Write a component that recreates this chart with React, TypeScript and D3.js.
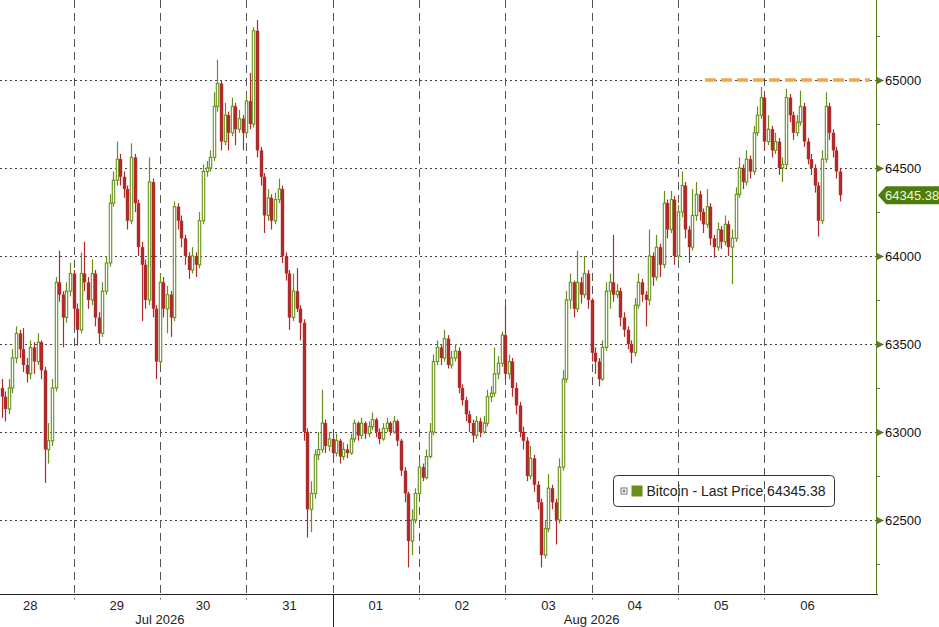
import React from 'react';
import * as d3 from 'd3';

// ---------- data (hourly bars, first bar 28 Jul 2026 04:00) ----------
const firstBar = new Date(2026, 6, 28, 4);
const firstOpen = 63250;
const closes = [
  // 28 Jul
  63200, 63130, 63250, 63420, 63560, 63470, 63380, 63330, 63480, 63400, 63510, 63350, 62900, 62950, 63250, 63850, 63780, 63650, 63800, 63900,
  // 29 Jul
  63700, 63580, 63900, 63850, 63750, 63900, 63650, 63560, 63800, 63960, 64300, 64430, 64550, 64450, 64380, 64200, 64560, 64300, 64050, 63950, 63750, 64420, 63700, 63400,
  // 30 Jul
  63850, 63700, 63780, 63650, 64280, 64200, 64100, 64000, 63920, 64000, 63950, 64200, 64480, 64500, 64560, 64850, 64980, 64650, 64800, 64700, 64850, 64720, 64780, 64700,
  // 31 Jul
  64880, 64750, 65280, 64600, 64450, 64230, 64330, 64200, 64320, 64380, 64000, 63900, 63650, 63800, 63700, 63620, 63000, 62560, 62650, 62870, 62900, 63050, 62920, 62960,
  // 01 Aug
  62880, 62950, 62860, 62900, 62880, 62960, 63050, 62980, 63050, 62990, 63030, 63070, 63000, 62960, 63020, 63050, 63000, 63060, 62950, 62780, 62650, 62380, 62500, 62650,
  // 02 Aug
  62800, 62740, 62860, 63000, 63400, 63480, 63420, 63530, 63380, 63420, 63460, 63250, 63180, 63100, 63050, 62980, 63060, 63000, 63050, 63200, 63220, 63330, 63390, 63550,
  // 03 Aug
  63330, 63400, 63250, 63150, 63000, 62950, 62750, 62850, 62700, 62600, 62300, 62450, 62680, 62600, 62500, 62800, 63300, 63750, 63850, 63700, 63850, 63780, 63900, 63750,
  // 04 Aug
  63450, 63400, 63300, 63480, 63800, 63850, 63780, 63800, 63650, 63580, 63500, 63450, 63720, 63850, 63780, 63750, 64000, 63880, 64050, 63950, 64300, 64150, 64320, 64000,
  // 05 Aug
  64250, 64400, 64150, 64050, 64230, 64350, 64250, 64180, 64280, 64100, 64050, 64150, 64080, 64180, 64050, 64100, 64350, 64500, 64420, 64550, 64480, 64700, 64800, 64900,
  // 06 Aug
  64650, 64720, 64600, 64650, 64500, 64520, 64900, 64800, 64700, 64760, 64850, 64650, 64550, 64500, 64400, 64200, 64550, 64850, 64700, 64600, 64480, 64345.38,
];
const highs = [
  63300, 63230, 63300, 63470, 63600, 63580, 63590, 63420, 63520, 63510, 63560, 63520, 63370, 63050, 63300, 63880, 64030, 63800, 63850, 63960,
  63920, 63730, 64020, 64080, 63880, 63980, 63920, 63680, 63850, 64000, 64350, 64480, 64650, 64580, 64480, 64400, 64640, 64580, 64320, 64080, 63980, 64560, 64440, 63720,
  63900, 63880, 63830, 63800, 64310, 64300, 64230, 64120, 64020, 64050, 64020, 64250, 64520, 64540, 64600, 64930, 65115, 65000, 64870, 64820, 64900, 64870, 64830, 64800,
  64920, 65040, 65300, 65340, 64620, 64470, 64380, 64350, 64360, 64440, 64400, 64020, 63920, 63900, 63930, 63720, 63640, 63020, 62720, 62900, 63000, 63240, 63070, 63000,
  62990, 62990, 62960, 62940, 62930, 62990, 63070, 63060, 63080, 63060, 63060, 63110, 63080, 63020, 63050, 63080, 63060, 63090, 63070, 62960, 62800, 62660, 62560, 62680,
  62840, 62820, 62900, 63050, 63440, 63520, 63500, 63580, 63550, 63460, 63500, 63480, 63270, 63200, 63120, 63070, 63090, 63080, 63090, 63240, 63260, 63480, 63430, 63570,
  63720, 63440, 63420, 63280, 63170, 63030, 62970, 62920, 62870, 62720, 62620, 62500, 62760, 62700, 62620, 62850, 63350, 63800, 63900, 63860, 64030, 63880, 64000, 63920,
  63760, 63480, 63420, 63520, 63850, 63900, 64120, 63840, 63820, 63680, 63600, 63520, 63760, 63900, 63870, 63800, 64150, 64020, 64120, 64070, 64370, 64320, 64370, 64340,
  64290, 64480, 64420, 64170, 64380, 64420, 64370, 64270, 64380, 64300, 64120, 64190, 64170, 64230, 64200, 64150, 64390, 64560, 64520, 64600, 64570, 64740, 64850, 64960,
  64920, 64800, 64740, 64700, 64670, 64560, 64950, 64920, 64820, 64800, 64940, 64870, 64670, 64580, 64520, 64420, 64600, 64930, 64870, 64720, 64620, 64500,
];
const lows = [
  63080, 63060, 63100, 63220, 63390, 63420, 63340, 63280, 63300, 63330, 63380, 63300, 62710, 62820, 62920, 63230, 63740, 63480, 63620, 63770,
  63600, 63490, 63560, 63800, 63700, 63720, 63600, 63500, 63540, 63780, 63940, 64280, 64400, 64400, 64330, 64150, 64180, 64250, 64000, 63630, 63700, 63720, 63650, 63300,
  63380, 63650, 63560, 63540, 63630, 64150, 64050, 63950, 63870, 63900, 63880, 63930, 64180, 64450, 64480, 64540, 64820, 64600, 64630, 64600, 64680, 64630, 64700, 64600,
  64680, 64720, 64730, 64560, 64400, 64130, 64200, 64150, 64180, 64300, 63960, 63860, 63580, 63630, 63680, 63520, 62950, 62400, 62430, 62620, 62840, 62880, 62880, 62890,
  62850, 62860, 62820, 62840, 62850, 62870, 62940, 62950, 62960, 62960, 62970, 63010, 62970, 62930, 62950, 63000, 62980, 62990, 62920, 62750, 62600, 62230, 62300, 62480,
  62640, 62720, 62730, 62850, 62980, 63380, 63380, 63400, 63360, 63360, 63400, 63220, 63150, 63060, 63000, 62940, 62960, 62970, 62990, 63030, 63170, 63200, 63300, 63370,
  63300, 63300, 63200, 63100, 62970, 62900, 62720, 62730, 62660, 62560, 62230, 62280, 62430, 62560, 62360, 62480, 62780, 63280, 63700, 63650, 63680, 63730, 63760, 63700,
  63400, 63330, 63260, 63290, 63460, 63700, 63740, 63760, 63600, 63540, 63470, 63390, 63430, 63700, 63740, 63600, 63720, 63830, 63860, 63880, 63930, 64100, 64130, 63950,
  63980, 64220, 64100, 63960, 64030, 64200, 64200, 64130, 64160, 64060, 63990, 64030, 64040, 64060, 64000, 63840, 64080, 64330, 64380, 64400, 64440, 64460, 64680, 64780,
  64600, 64630, 64560, 64580, 64460, 64420, 64500, 64760, 64660, 64680, 64740, 64620, 64520, 64460, 64360, 64110, 64180, 64530, 64660, 64560, 64440, 64310,
];
const dayLabels = ['28', '29', '30', '31', '01', '02', '03', '04', '05', '06'];
const monthLabels = ['Jul 2026', 'Aug 2026'];
const yTicks = [62500, 63000, 63500, 64000, 64500, 65000];
const yMinorTicks = [62250, 62750, 63250, 63750, 64250, 64750, 65250];
const lastPrice = 64345.38;
const resistanceLevel = 65000;
const resistanceStart = new Date(2026, 7, 5, 7, 30);
const seriesLabel = 'Bitcoin - Last Price';

// ---------- colours ----------
const UP = '#67901a';
const DOWN = '#b02a2a';
const AXIS_GREEN = '#5a7a1e';
const TAG_GREEN = '#4f7d0c';
const FONT = '"Liberation Sans", Arial, sans-serif';

export default function App() {
  const W = 939;
  const H = 627;
  const plotRight = 876;
  const plotBottom = 594.5;

  const x = d3
    .scaleTime()
    .domain([new Date(2026, 6, 28, 3, 34), new Date(2026, 7, 7, 7, 2)])
    .range([0, plotRight]);
  const y = d3.scaleLinear().domain([62076, 65454.5]).range([plotBottom, 0]);

  const bars = closes.map((c, i) => {
    const o = i === 0 ? firstOpen : closes[i - 1];
    return { t: d3.timeHour.offset(firstBar, i), o, c, h: highs[i], l: lows[i] };
  });

  const dayStarts = d3.timeDay.range(new Date(2026, 6, 29), new Date(2026, 7, 7));
  const noons = d3.timeDay
    .range(new Date(2026, 6, 28), new Date(2026, 7, 7))
    .map((d) => d3.timeHour.offset(d, 12));
  const monthStart = new Date(2026, 7, 1);
  const julNoons = noons.filter((d) => d < monthStart);
  const augNoons = noons.filter((d) => d >= monthStart);
  const monthX = [
    (x(julNoons[0]) + x(julNoons[julNoons.length - 1])) / 2,
    (x(augNoons[0]) + x(augNoons[augNoons.length - 1])) / 2,
  ];

  const yLast = y(lastPrice);
  const yRes = y(resistanceLevel);

  return (
    <>
      <style>{`body{margin:0;background:#fff}`}</style>
      <svg width={W} height={H} style={{ display: 'block', fontFamily: FONT }}>
        <rect x={0} y={0} width={W} height={H} fill="#ffffff" />

        {/* horizontal dotted grid */}
        {yTicks.map((v) => (
          <line
            key={'hg' + v}
            x1={0}
            x2={plotRight}
            y1={Math.round(y(v)) + 0.5}
            y2={Math.round(y(v)) + 0.5}
            stroke="#444"
            strokeWidth={1}
            strokeDasharray="2,3"
          />
        ))}

        {/* vertical dashed day grid */}
        {dayStarts.map((d) => (
          <line
            key={'vg' + d.getTime()}
            x1={Math.round(x(d)) + 0.5}
            x2={Math.round(x(d)) + 0.5}
            y1={0}
            y2={plotBottom + 5}
            stroke="#555"
            strokeWidth={1}
            strokeDasharray="8,5"
          />
        ))}

        {/* month separator below axis */}
        <line
          x1={Math.round(x(monthStart)) + 0.5}
          x2={Math.round(x(monthStart)) + 0.5}
          y1={plotBottom}
          y2={H}
          stroke="#222"
          strokeWidth={1}
        />

        {/* candles */}
        <g>
          {bars.map((b, i) => {
            const cx = Math.round(x(b.t)) + 0.5;
            const up = b.c >= b.o;
            const top = y(Math.max(b.o, b.c));
            const bot = y(Math.min(b.o, b.c));
            const hgt = Math.max(1, bot - top);
            const col = up ? UP : DOWN;
            return (
              <g key={i}>
                <line x1={cx} x2={cx} y1={y(b.h)} y2={y(b.l)} stroke={col} strokeWidth={1.2} />
                {up ? (
                  <rect x={cx - 1.2} y={top} width={2.4} height={hgt} fill="#ffffff" stroke={col} strokeWidth={1.1} />
                ) : (
                  <rect x={cx - 1.7} y={top} width={3.4} height={hgt} fill={col} stroke="none" />
                )}
              </g>
            );
          })}
        </g>

        {/* resistance line */}
        <line
          x1={x(resistanceStart)}
          x2={plotRight - 6}
          y1={yRes}
          y2={yRes}
          stroke="#f4a640"
          strokeWidth={3.5}
          strokeDasharray="11,5"
        />

        {/* x axis */}
        <line x1={0} x2={plotRight + 2} y1={plotBottom} y2={plotBottom} stroke="#222" strokeWidth={1} />
        {noons.map((d, i) => (
          <text key={'dl' + i} x={x(d)} y={610} textAnchor="middle" fontSize={13} fill="#222">
            {dayLabels[i]}
          </text>
        ))}
        {monthLabels.map((m, i) => (
          <text key={'ml' + i} x={monthX[i]} y={624} textAnchor="middle" fontSize={13} fill="#222">
            {m}
          </text>
        ))}

        {/* y axis */}
        <line x1={plotRight + 0.5} x2={plotRight + 0.5} y1={0} y2={plotBottom} stroke={AXIS_GREEN} strokeWidth={1} />
        {yMinorTicks.map((v) => (
          <line
            key={'mt' + v}
            x1={plotRight}
            x2={plotRight + 4}
            y1={Math.round(y(v)) + 0.5}
            y2={Math.round(y(v)) + 0.5}
            stroke={AXIS_GREEN}
            strokeWidth={1}
          />
        ))}
        {yTicks.map((v) => {
          const yy = Math.round(y(v)) + 0.5;
          return (
            <g key={'yt' + v}>
              <path
                d={`M${plotRight + 1},${yy - 3.5}L${plotRight + 8},${yy}L${plotRight + 1},${yy + 3.5}Z`}
                fill={AXIS_GREEN}
              />
              <text x={plotRight + 9} y={yy + 4.5} fontSize={13} fill="#111">
                {d3.format('d')(v)}
              </text>
            </g>
          );
        })}

        {/* last price tag */}
        <path
          d={`M${plotRight + 2},${yLast}L${plotRight + 10},${yLast - 9}L${W},${yLast - 9}L${W},${yLast + 9}L${plotRight + 10},${yLast + 9}Z`}
          fill={TAG_GREEN}
        />
        <text x={plotRight + 9} y={yLast + 4.5} fontSize={13} fill="#eef8dc">
          {d3.format('.2f')(lastPrice)}
        </text>

        {/* legend */}
        <g transform="translate(613.5,475.5)">
          <rect x={0} y={0} width={221} height={31} rx={4} ry={4} fill="none" stroke="#333" strokeWidth={1} />
          <rect x={7.5} y={12.5} width={6} height={6} fill="#fff" stroke="#777" strokeWidth={1} />
          <line x1={9} x2={12} y1={15.5} y2={15.5} stroke="#555" strokeWidth={1} />
          <line x1={10.5} x2={10.5} y1={14} y2={17} stroke="#555" strokeWidth={1} />
          <rect x={18} y={10} width={11} height={11} fill={UP} />
          <text x={33} y={20.5} fontSize={14} fill="#222">
            {`${seriesLabel} ${d3.format('.2f')(lastPrice)}`}
          </text>
        </g>
      </svg>
    </>
  );
}
